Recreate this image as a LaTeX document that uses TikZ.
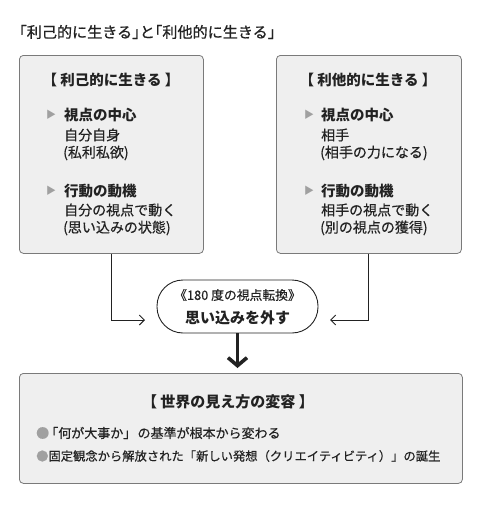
\documentclass[tikz,border=0pt]{standalone}
\usepackage{fontspec}
\setmainfont{Noto Sans CJK JP}
\newfontfamily\jpmed{Noto Sans CJK JP}[FakeBold=0.45]
\newfontfamily\jpsemi{Noto Sans CJK JP}[FakeBold=0.9]
\usetikzlibrary{arrows.meta}
\definecolor{boxfill}{HTML}{EFEFEF}
\definecolor{boxline}{HTML}{7A7A7A}
\definecolor{ink}{HTML}{222222}
\definecolor{markc}{HTML}{A0A0A0}
\begin{document}
\begin{tikzpicture}[x=1pt,y=-1pt,
  panel/.style={draw=boxline, fill=boxfill, rounded corners=4pt, line width=0.8pt, anchor=north west, inner sep=0pt},
  txt/.style={inner sep=0pt, anchor=west, text=ink, font=\jpmed\fontsize{14}{16}\selectfont},
  hd/.style={txt, font=\bfseries\fontsize{14.5}{16}\selectfont},
  ttl/.style={inner sep=0pt, text=ink, font=\bfseries\fontsize{14.5}{16}\selectfont},
  tri/.style={inner sep=0pt, text=markc, font=\fontsize{10}{12}\selectfont},
  btxt/.style={inner sep=0pt, anchor=west, text=ink, font=\jpmed\fontsize{12.3}{14}\selectfont},
  conn/.style={draw=ink, line width=1pt, -{Straight Barb[length=5pt,width=10pt]}},
  bigarrow/.style={draw=ink, line width=3.6pt, -{Straight Barb[length=8pt,width=19pt]}}
]
\useasboundingbox (0,0) rectangle (480,506);

% heading
\node[txt, font=\jpsemi\fontsize{15.1}{17}\selectfont] (title) at (11.5,32) {「利己的に生きる」\kern-0.5emと\kern-0.5em「利他的に生きる」};

% panels
\node[panel, minimum width=184pt, minimum height=198pt] (lbox) at (19,55) {};
\node[panel, minimum width=185pt, minimum height=198pt] (rbox) at (276,55) {};
\node[panel, minimum width=443pt, minimum height=110pt] (bbox) at (19,373) {};

% left panel content
\node[ttl] (ltitle) at (111,80) {【 利己的に生きる 】};
\node[tri] (lt1) at (51,115) {▶};
\node[hd] (lh1) at (64,115) {視点の中心};
\node[txt] (ll1) at (64,135) {自分自身};
\node[txt] (ll2) at (63,153) {(私利私欲)};
\node[tri] (lt2) at (51,191) {▶};
\node[hd] (lh2) at (64,191) {行動の動機};
\node[txt] (ll3) at (64,210) {自分の視点で動く};
\node[txt] (ll4) at (63,228) {(思い込みの状態)};

% right panel content
\node[ttl] (rtitle) at (368,80) {【 利他的に生きる 】};
\node[tri] (rt1) at (309,115) {▶};
\node[hd] (rh1) at (321,115) {視点の中心};
\node[txt] (rl1) at (321,135) {相手};
\node[txt] (rl2) at (320,153) {(相手の力になる)};
\node[tri] (rt2) at (309,191) {▶};
\node[hd] (rh2) at (321,191) {行動の動機};
\node[txt] (rl3) at (321,210) {相手の視点で動く};
\node[txt] (rl4) at (320,228) {(別の視点の獲得)};

% central capsule
\node[draw=ink, fill=white, line width=0.9pt, rounded corners=26pt, minimum width=161pt, minimum height=53pt, inner sep=0pt] (oval) at (237.5,306.5) {};
\node[inner sep=0pt, text=ink, font=\jpmed\fontsize{12.8}{14}\selectfont] (o1) at (237.5,295) {《180 度の視点転換》};
\node[inner sep=0pt, text=ink, font=\bfseries\fontsize{15}{17}\selectfont] (o2) at (237.5,318) {思い込みを外す};

% connectors
\coordinate (la) at (145,320);
\coordinate (ra) at (330,320);
\draw[conn] (lbox.south) |- (la);
\draw[conn] (rbox.south) |- (ra);
\coordinate (dn) at (237.5,368);
\draw[bigarrow] (oval.south) -- (dn);

% bottom panel content
\node[ttl, font=\bfseries\fontsize{15}{17}\selectfont] (btitle) at (228,402) {【 世界の見え方の変容 】};
\node[btxt, font=\jpmed\fontsize{13}{15}\selectfont] (b1) at (36,433) {\textcolor{markc}{●}\kern-0.3em「何が大事か」\kern0.1emの基準が根本から変わる};
\node[btxt] (b2) at (36,456) {\textcolor{markc}{●}固定観念から解放された「新しい発想（クリエイティビティ）」の誕生};
\end{tikzpicture}
\end{document}
